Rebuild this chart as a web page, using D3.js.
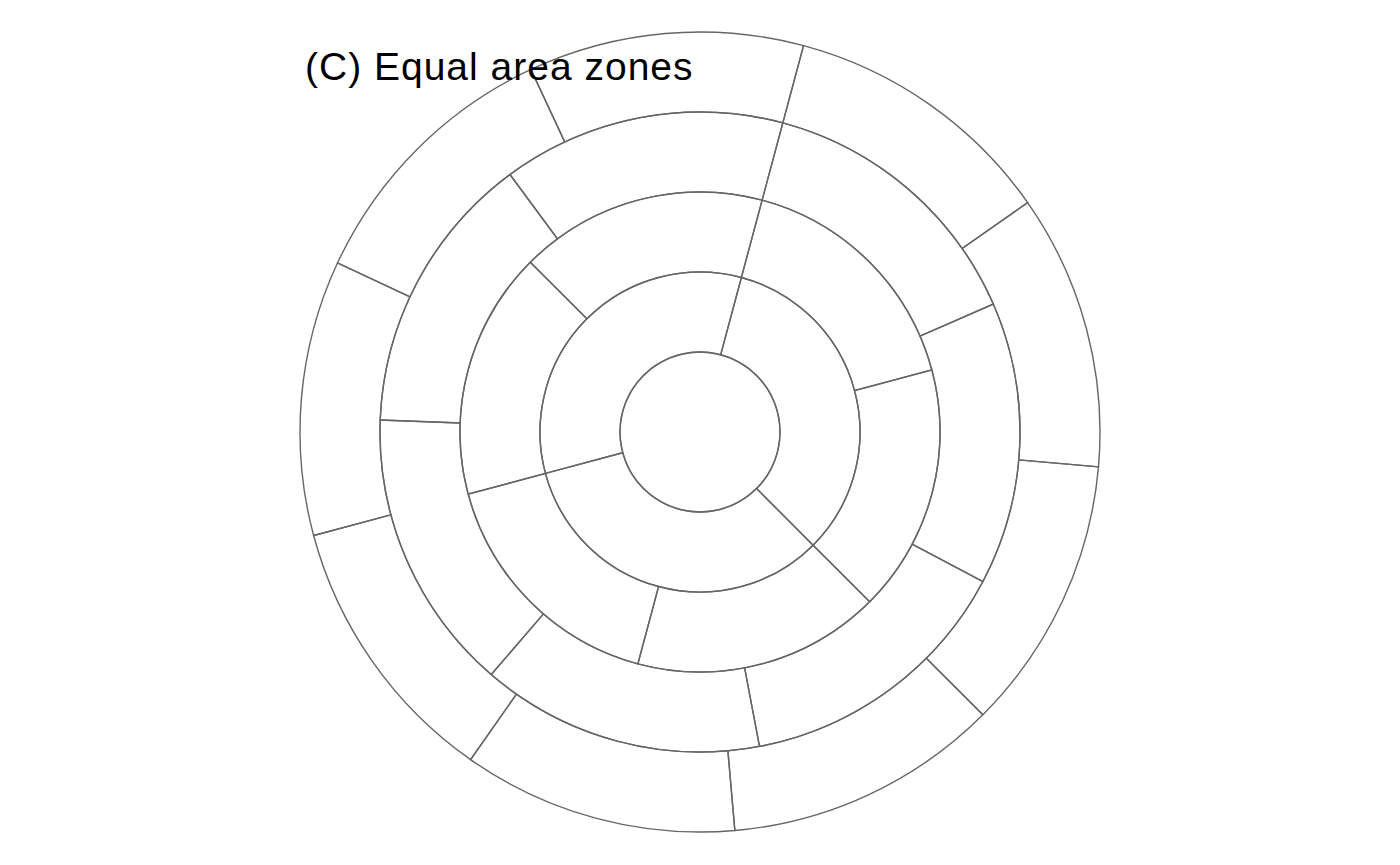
<!DOCTYPE html>
<html>
<head>
<meta charset="utf-8">
<script src="https://cdn.jsdelivr.net/npm/d3@7"></script>
<style>
html,body{margin:0;padding:0;background:#fff;}
svg{display:block;}
</style>
</head>
<body>
<svg id="chart" width="1400" height="865"></svg>
<script>
// Ring index (distance bands) and number of equal-area segments per ring
const rings = [1, 2, 3, 4, 5];
const segmentsPerRing = [1, 3, 6, 7, 9];
const startOffsetDeg = 15;
const title = "(C) Equal area zones";

const svg = d3.select("#chart");
const cx = 700, cy = 432;
const r = d3.scaleLinear().domain([0, 5]).range([0, 400]);

const zones = [];
rings.forEach((ring, i) => {
  const n = segmentsPerRing[i];
  for (let k = 0; k < n; k++) {
    const a0 = (startOffsetDeg * Math.PI / 180) + k * 2 * Math.PI / n;
    zones.push({
      inner: ring - 1,
      outer: ring,
      start: n === 1 ? 0 : a0,
      end: n === 1 ? 2 * Math.PI : a0 + 2 * Math.PI / n
    });
  }
});

const arc = d3.arc()
  .innerRadius(d => r(d.inner))
  .outerRadius(d => r(d.outer))
  .startAngle(d => d.start)
  .endAngle(d => d.end);

svg.append("g")
  .attr("transform", `translate(${cx},${cy})`)
  .selectAll("path")
  .data(zones)
  .join("path")
  .attr("d", arc)
  .attr("fill", "none")
  .attr("stroke", "#666666")
  .attr("stroke-width", 1.4);

svg.append("text")
  .attr("x", 305)
  .attr("y", 79.5)
  .attr("font-family", "Liberation Sans, Arial, sans-serif")
  .attr("font-size", 39)
  .attr("letter-spacing", 1)
  .attr("fill", "#000")
  .text(title);
</script>
</body>
</html>
